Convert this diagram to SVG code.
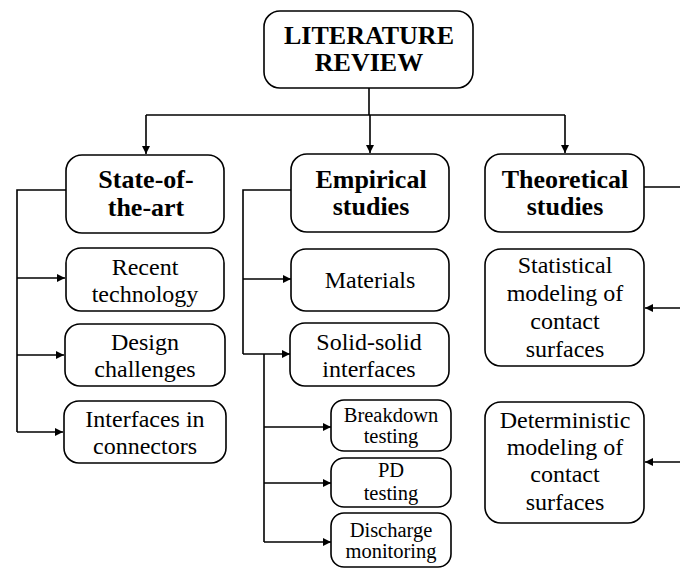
<svg xmlns="http://www.w3.org/2000/svg" width="680" height="568" viewBox="0 0 680 568">
<style>
.box{fill:#fff;stroke:#000;stroke-width:1.6}
.t{font-size:24px;text-anchor:middle;fill:#000}
.b{font-size:26px;font-weight:bold;text-anchor:middle;fill:#000}
.s{font-size:20.5px;text-anchor:middle;fill:#000}
.c{fill:none;stroke:#000;stroke-width:1.6}
</style>
<defs>
<marker id="ah" viewBox="0 0 10 10" refX="10" refY="5" markerWidth="5" markerHeight="5" orient="auto" markerUnits="strokeWidth">
<path d="M0,0 L10,5 L0,10 z" fill="#000"/>
</marker>
</defs>
<g id="connectors">
<path class="c" d="M369,88 V115"/>
<path class="c" d="M146,115 H565"/>
<path class="c" d="M146,115 V154" marker-end="url(#ah)"/>
<path class="c" d="M370,115 V153" marker-end="url(#ah)"/>
<path class="c" d="M565,115 V153" marker-end="url(#ah)"/>
<path class="c" d="M66,190 H17 V432"/>
<path class="c" d="M17,278 H65" marker-end="url(#ah)"/>
<path class="c" d="M17,355 H64" marker-end="url(#ah)"/>
<path class="c" d="M17,432 H63" marker-end="url(#ah)"/>
<path class="c" d="M291,190 H243 V354"/>
<path class="c" d="M243,279 H291" marker-end="url(#ah)"/>
<path class="c" d="M243,354 H290" marker-end="url(#ah)"/>
<path class="c" d="M264,354 V542"/>
<path class="c" d="M264,427 H331" marker-end="url(#ah)"/>
<path class="c" d="M264,483 H331" marker-end="url(#ah)"/>
<path class="c" d="M264,542 H331" marker-end="url(#ah)"/>
<path class="c" d="M644,187 H686 V462"/>
<path class="c" d="M686,308 H645" marker-end="url(#ah)"/>
<path class="c" d="M686,462 H645" marker-end="url(#ah)"/>
</g>
<g id="literature-review">
<rect class="box" x="264" y="11" width="209" height="77" rx="16"/>
<text class="b" font-family="Liberation Serif" x="369" y="44">LITERATURE</text>
<text class="b" font-family="Liberation Serif" x="369" y="71">REVIEW</text>
</g>
<g id="state-of-the-art">
<rect class="box" x="66" y="155" width="158" height="78" rx="16"/>
<text class="b" font-family="Liberation Serif" x="146" y="188">State-of-</text>
<text class="b" font-family="Liberation Serif" x="146" y="216">the-art</text>
</g>
<g id="recent-technology">
<rect class="box" x="66" y="248" width="158" height="63" rx="15"/>
<text class="t" font-family="Liberation Serif" x="145" y="275">Recent</text>
<text class="t" font-family="Liberation Serif" x="145" y="302">technology</text>
</g>
<g id="design-challenges">
<rect class="box" x="65" y="324" width="160" height="62" rx="15"/>
<text class="t" font-family="Liberation Serif" x="145" y="350">Design</text>
<text class="t" font-family="Liberation Serif" x="145" y="377">challenges</text>
</g>
<g id="interfaces-in-connectors">
<rect class="box" x="64" y="401" width="162" height="62" rx="15"/>
<text class="t" font-family="Liberation Serif" x="145" y="427">Interfaces in</text>
<text class="t" font-family="Liberation Serif" x="145" y="454">connectors</text>
</g>
<g id="empirical-studies">
<rect class="box" x="291" y="154" width="158" height="78" rx="16"/>
<text class="b" font-family="Liberation Serif" x="371" y="188">Empirical</text>
<text class="b" font-family="Liberation Serif" x="371" y="215">studies</text>
</g>
<g id="materials">
<rect class="box" x="291" y="249" width="158" height="62" rx="15"/>
<text class="t" font-family="Liberation Serif" x="370" y="288">Materials</text>
</g>
<g id="solid-solid-interfaces">
<rect class="box" x="290" y="323" width="159" height="63" rx="15"/>
<text class="t" font-family="Liberation Serif" x="369" y="350">Solid-solid</text>
<text class="t" font-family="Liberation Serif" x="369" y="377">interfaces</text>
</g>
<g id="breakdown-testing">
<rect class="box" x="331" y="400" width="120" height="51" rx="13"/>
<text class="s" font-family="Liberation Serif" x="391" y="422">Breakdown</text>
<text class="s" font-family="Liberation Serif" x="391" y="443">testing</text>
</g>
<g id="pd-testing">
<rect class="box" x="331" y="458" width="120" height="49" rx="13"/>
<text class="s" font-family="Liberation Serif" x="391" y="477">PD</text>
<text class="s" font-family="Liberation Serif" x="391" y="500">testing</text>
</g>
<g id="discharge-monitoring">
<rect class="box" x="331" y="513" width="120" height="54" rx="13"/>
<text class="s" font-family="Liberation Serif" x="391" y="537">Discharge</text>
<text class="s" font-family="Liberation Serif" x="391" y="558">monitoring</text>
</g>
<g id="theoretical-studies">
<rect class="box" x="485" y="154" width="159" height="78" rx="16"/>
<text class="b" font-family="Liberation Serif" x="565" y="188">Theoretical</text>
<text class="b" font-family="Liberation Serif" x="565" y="215">studies</text>
</g>
<g id="statistical-modeling">
<rect class="box" x="485" y="249" width="159" height="117" rx="16"/>
<text class="t" font-family="Liberation Serif" x="565" y="273">Statistical</text>
<text class="t" font-family="Liberation Serif" x="565" y="301">modeling of</text>
<text class="t" font-family="Liberation Serif" x="565" y="329">contact</text>
<text class="t" font-family="Liberation Serif" x="565" y="357">surfaces</text>
</g>
<g id="deterministic-modeling">
<rect class="box" x="485" y="402" width="159" height="121" rx="16"/>
<text class="t" font-family="Liberation Serif" x="565" y="428">Deterministic</text>
<text class="t" font-family="Liberation Serif" x="565" y="455">modeling of</text>
<text class="t" font-family="Liberation Serif" x="565" y="482">contact</text>
<text class="t" font-family="Liberation Serif" x="565" y="510">surfaces</text>
</g>
</svg>
